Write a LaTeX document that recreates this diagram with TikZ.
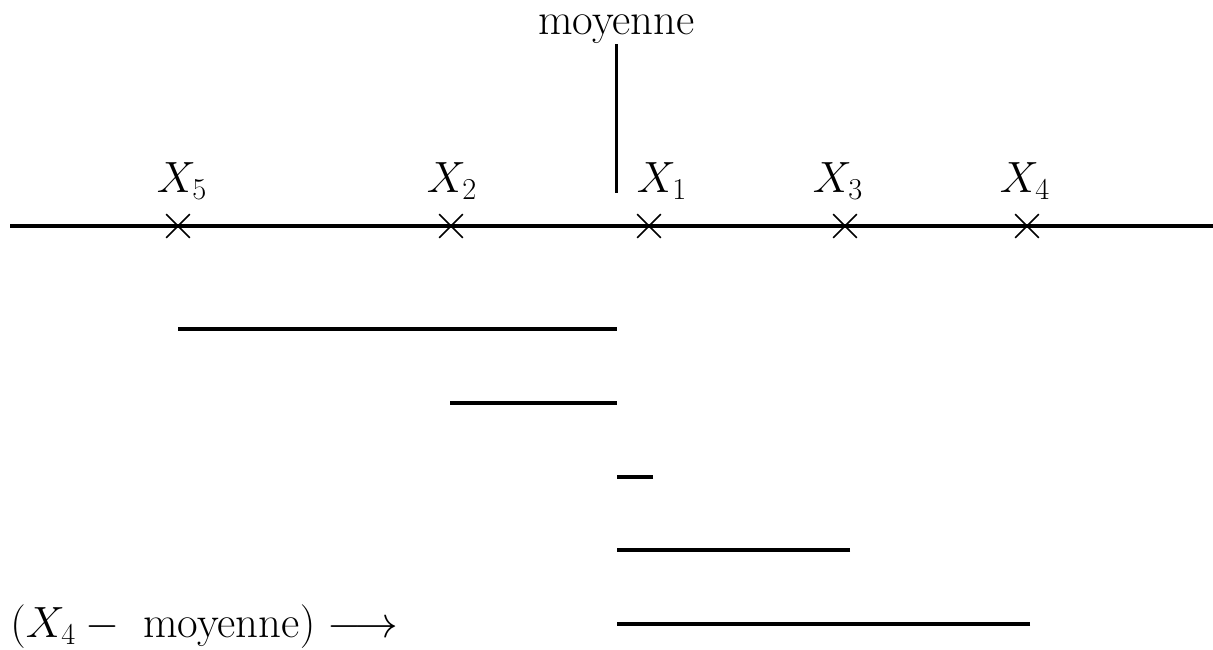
\documentclass[tikz,border=0pt]{standalone}
\usetikzlibrary{shapes.misc}

\begin{document}
\begin{tikzpicture}[font=\fontsize{25.5}{30}\selectfont,
  pt/.style={draw,cross out,minimum size=4.4mm,inner sep=0pt,line width=0.9pt},
  lbl/.style={anchor=base,inner sep=0pt},
  bar/.style={line width=1.8pt}]
  \useasboundingbox (0,0) rectangle (24.26,13);
  % axe
  \coordinate (a0) at (0.2,8.48);
  \coordinate (a1) at (24.26,8.48);
  \draw[bar] (a0) -- (a1);
  \node[pt] (x5) at (3.56,8.48) {};
  \node[pt] (x2) at (9.02,8.48) {};
  \node[pt] (x1) at (12.98,8.48) {};
  \node[pt] (x3) at (16.9,8.48) {};
  \node[pt] (x4) at (20.54,8.48) {};
  \node[lbl] (l5) at (3.64,9.14) {$X_5$};
  \node[lbl] (l2) at (9.04,9.14) {$X_2$};
  \node[lbl] (l1) at (13.24,9.14) {$X_1$};
  \node[lbl] (l3) at (16.76,9.14) {$X_3$};
  \node[lbl] (l4) at (20.5,9.14) {$X_4$};
  % moyenne
  \node[lbl] (moy) at (12.33,12.3) {moyenne};
  \coordinate (m) at (12.33,9.14);
  \draw[bar] (m) -- (moy.south);
  % ecarts
  \foreach \x/\y [count=\i] in {3.56/6.42, 9.0/4.94, 13.06/3.46, 17.0/2.0, 20.6/0.52} {
    \coordinate (d\i) at (\x,\y);
    \coordinate (c\i) at (12.33,\y);
    \draw[bar] (d\i) -- (c\i);
  }
  \node[anchor=base west,inner sep=0pt] (txt) at (0.2,0.24)
    {$(X_4 - \mbox{ moyenne}) \longrightarrow$};
\end{tikzpicture}
\end{document}
